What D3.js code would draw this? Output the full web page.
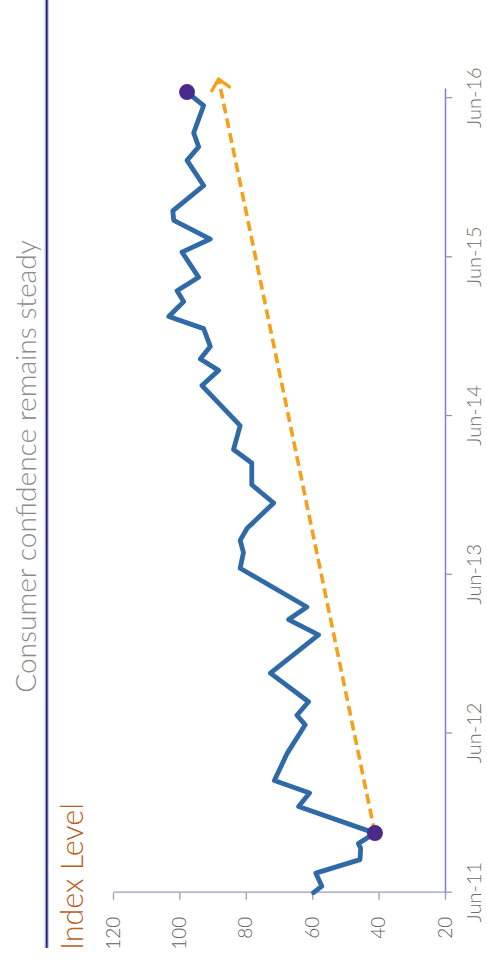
<!DOCTYPE html>
<html><head><meta charset="utf-8">
<script src="https://cdn.jsdelivr.net/npm/d3@7"></script>
<style>html,body{margin:0;padding:0;background:#fff;} svg{display:block;}</style>
</head><body>
<svg id="c" width="487" height="969"></svg>
<script>
// ---- data ----
const dates = ["2011-06-01","2011-06-16","2011-07-16","2011-08-16","2011-09-11","2011-09-22","2011-10-16",
  "2011-12-16","2012-01-16","2012-02-14","2012-04-17","2012-06-21","2012-07-13","2012-08-13","2012-10-18",
  "2013-01-14","2013-02-18","2013-03-19","2013-06-16","2013-07-22","2013-08-19","2013-09-16","2013-11-13",
  "2013-12-25","2014-02-13","2014-03-16","2014-05-10","2014-08-10","2014-09-14","2014-10-10","2014-11-08",
  "2014-12-19","2015-01-16","2015-02-19","2015-03-16","2015-04-16","2015-06-13","2015-07-13","2015-08-25",
  "2015-09-16","2015-11-13","2016-01-10","2016-02-10","2016-03-13","2016-05-15","2016-06-15"];
const values = [59.6,57.1,58.9,45.6,45.4,46.1,41.1,
  64.1,60.8,71.4,67.5,62.1,64.6,61.1,72.6,
  58.1,67.1,61.6,81.7,80.7,81.7,79.6,71.6,
  78.2,78.2,83.7,81.7,93.2,88.2,93.7,90.7,
  92.7,103.2,98.7,100.7,94.2,99.2,90.7,101.7,
  102.0,92.7,97.7,94.2,95.7,92.7,97.7];
const highlightDates = ["2011-10-16","2016-06-15"];
const highlightValues = [41.1, 97.7];
const trendDates = ["2011-10-16","2016-07-15"];
const trendValues = [41.1, 88.2];
const yTicks = [20,40,60,80,100,120];
const xTickDates = ["2011-06-01","2012-06-01","2013-06-01","2014-06-01","2015-06-01","2016-06-01"];
const xTickLabels = ["Jun-11","Jun-12","Jun-13","Jun-14","Jun-15","Jun-16"];
const titleText = "Consumer confidence remains steady";
const yLabelText = "Index Level";

// ---- drawing ----
const parse = d3.timeParse("%Y-%m-%d");
const W = 969, H = 487;
const svg = d3.select("#c");
svg.append("rect").attr("width",487).attr("height",969).attr("fill","#fff");
const g = svg.append("g").attr("transform", `translate(0,${W}) rotate(-90)`);

const x = d3.scaleTime().domain([parse("2011-06-01"), parse("2016-06-22")]).range([76.3, 880]);
const y = d3.scaleLinear().domain([20,120]).range([445,113]);

function fit(sel, target){
  const w = sel.node().getComputedTextLength();
  const fs = parseFloat(sel.attr("font-size"));
  sel.attr("font-size", fs*target/w);
}

// top rule
g.append("line").attr("x1",21).attr("x2",W).attr("y1",46.7).attr("y2",46.7)
  .attr("stroke","#c9c9ef").attr("stroke-width",4.5);
g.append("line").attr("x1",21).attr("x2",W).attr("y1",46.7).attr("y2",46.7)
  .attr("stroke","#1e1b6b").attr("stroke-width",1.8);

// title
const t = g.append("text").attr("x",502.5).attr("y",35.5).attr("text-anchor","middle")
  .attr("font-family","Lato, 'Open Sans', sans-serif").attr("font-weight",300)
  .attr("font-size",24).attr("fill","#8a8a8a").text(titleText);
fit(t, 453);

// y label
const yl = g.append("text").attr("x",19).attr("y",83).attr("text-anchor","start")
  .attr("font-family","Lato, 'Open Sans', sans-serif").attr("font-weight",300)
  .attr("font-size",22).attr("fill","#b85f1e").text(yLabelText);
fit(yl, 147);

// axes
const yAxis = g.append("g").attr("transform","translate(76.3,0)")
  .call(d3.axisLeft(y).tickValues(yTicks).tickSize(7).tickPadding(17).tickSizeOuter(0));
yAxis.select(".domain").attr("stroke","#9a9ac4").attr("stroke-width",1.3);
yAxis.selectAll(".tick line").attr("stroke","#9a9ac4").attr("stroke-width",1.3);
yAxis.selectAll(".tick text").attr("font-family","Lato, 'Open Sans', sans-serif").attr("font-weight",300)
  .attr("font-size",19).attr("fill","#5e5e5e");

const xAxis = g.append("g").attr("transform","translate(0,445)")
  .call(d3.axisBottom(x).tickValues(xTickDates.map(parse))
    .tickFormat((d,i)=>xTickLabels[i]).tickSize(7).tickPadding(15).tickSizeOuter(0));
xAxis.select(".domain").attr("stroke","#7e7ed2").attr("stroke-width",1.5);
xAxis.selectAll(".tick line").attr("stroke","#8d8dbd").attr("stroke-width",1.2);
xAxis.selectAll(".tick text").attr("font-family","Lato, 'Open Sans', sans-serif").attr("font-weight",300)
  .attr("font-size",20).attr("fill","#6a6a6a");

// arrow marker
const defs = svg.append("defs");
defs.append("marker").attr("id","arr").attr("markerUnits","userSpaceOnUse")
  .attr("viewBox","-14 -12 18 24").attr("markerWidth",18).attr("markerHeight",24)
  .attr("refX",0).attr("refY",0).attr("orient","auto")
  .append("path").attr("d","M-10,-9 L0,0 L-10,9").attr("fill","none")
  .attr("stroke","#f5a01a").attr("stroke-width",3.4).attr("stroke-linecap","round").attr("stroke-linejoin","round");

// trend
const trend = trendDates.map((d,i)=>({d:parse(d), v:trendValues[i]}));
g.append("path").datum(trend)
  .attr("d", d3.line().x(p=>x(p.d)).y(p=>y(p.v)))
  .attr("fill","none").attr("stroke","#f5a01a").attr("stroke-width",3.6)
  .attr("stroke-dasharray","10,5").attr("marker-end","url(#arr)");

// series
const data = dates.map((d,i)=>({d:parse(d), v:values[i]}));
g.append("path").datum(data)
  .attr("d", d3.line().x(p=>x(p.d)).y(p=>y(p.v)))
  .attr("fill","none").attr("stroke","#2f69a6").attr("stroke-width",4.8)
  .attr("stroke-linejoin","round").attr("stroke-linecap","round");

// highlight dots
g.selectAll("circle.hl").data(highlightDates.map((d,i)=>({d:parse(d), v:highlightValues[i]})))
  .enter().append("circle").attr("class","hl")
  .attr("cx",p=>x(p.d)).attr("cy",p=>y(p.v)).attr("r",8)
  .attr("fill","#4a2a8a");
</script>
</body></html>
